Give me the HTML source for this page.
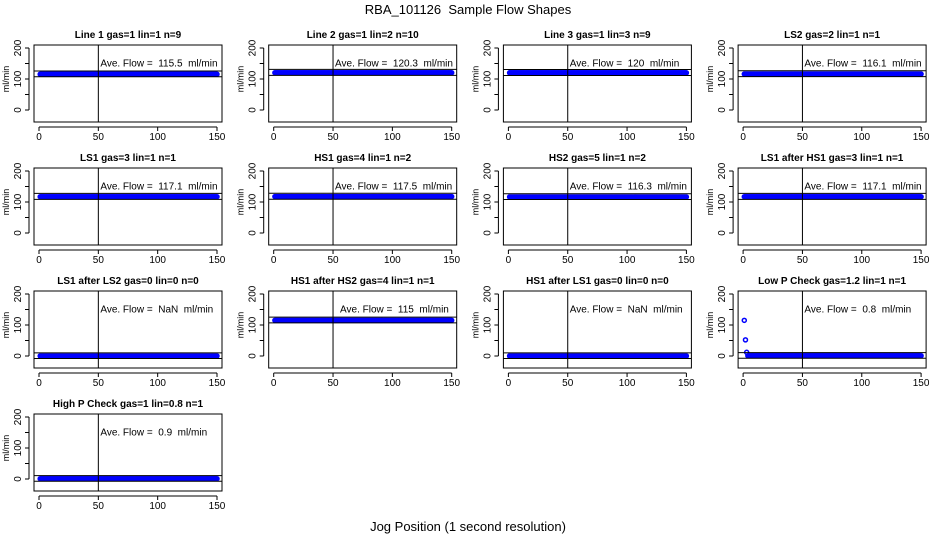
<!DOCTYPE html>
<html><head><meta charset="utf-8">
<style>
html,body{margin:0;padding:0;background:#fff;}
svg{display:block;font-family:"Liberation Sans",Arial,sans-serif;}
text{white-space:pre;}
</style></head>
<body>
<svg id="chart" width="936" height="540" viewBox="0 0 936 540">
<text x="468" y="14" text-anchor="middle" font-size="13">RBA_101126  Sample Flow Shapes</text>
<text x="468" y="531" text-anchor="middle" font-size="13">Jog Position (1 second resolution)</text>
</svg>
<script>
const titles = ["Line 1 gas=1 lin=1 n=9","Line 2 gas=1 lin=2 n=10","Line 3 gas=1 lin=3 n=9","LS2 gas=2 lin=1 n=1",
"LS1 gas=3 lin=1 n=1","HS1 gas=4 lin=1 n=2","HS2 gas=5 lin=1 n=2","LS1 after HS1 gas=3 lin=1 n=1",
"LS1 after LS2 gas=0 lin=0 n=0","HS1 after HS2 gas=4 lin=1 n=1","HS1 after LS1 gas=0 lin=0 n=0","Low P Check gas=1.2 lin=1 n=1",
"High P Check gas=1 lin=0.8 n=1"];
const aveLabels = ["115.5","120.3","120","116.1","117.1","117.5","116.3","117.1","NaN","115","NaN","0.8","0.9"];
const levels = [115.5,120.3,120,116.1,117.1,117.5,116.3,117.1,0,115,0,0.8,0.9];
const startValues = [[],[],[],[],[],[],[],[],[],[],[],[115,52,12],[]];
const xTicks = [0,50,100,150];
const yTicks = [0,50,100,150,200];
const yLabels = [0,100,200];
const nPoints = 150;

const NS = "http://www.w3.org/2000/svg";
const svg = document.getElementById("chart");
function mk(tag, attrs, parent){const e=document.createElementNS(NS,tag);for(const k in attrs)e.setAttribute(k,attrs[k]);(parent||svg).appendChild(e);return e;}

titles.forEach((t,i)=>{
  const c=i%4, r=Math.floor(i/4);
  const L=34+234.7*c, R=L+188, T=45+123*r, B=T+77;
  const sx=v=>39+234.7*c+v*(178/150);
  const sy=v=>T+65-v*0.31;
  const g=mk("g",{});
  
  
  const tt=mk("text",{x:(L+R)/2,y:T-7,"text-anchor":"middle","font-size":"10","font-weight":"bold"},g);
  tt.textContent=t;
  
  
  const pts=mk("g",{fill:"none",stroke:"#0000ff","stroke-width":"1.5"},g);
  
  
  const sv=startValues[i];
  for(let k=1;k<=nPoints;k++){
    const v = k<=sv.length ? sv[k-1] : levels[i];
    const p=mk("circle",{cx:sx(k),cy:sy(v),r:2},pts);
    
    
  }
  const band = Math.max(levels[i]*0.09,10);
  [levels[i]+band, levels[i]-band*0.8].forEach(v=>{
    const l=mk("line",{x1:L,x2:R,y1:sy(v),y2:sy(v),stroke:"#000","stroke-width":"1"},g);
    
    
  });
  const vl=mk("line",{x1:sx(50),x2:sx(50),y1:T,y2:B,stroke:"#000","stroke-width":"1"},g);
  
  
  const box=mk("rect",{x:L,y:T,width:R-L,height:B-T,fill:"none",stroke:"#000","stroke-width":"1"},g);
  
  
  const at=mk("text",{x:sx(50)+(i==9?7:2),y:sy(150)+3,"font-size":"10"},g);
  at.textContent="Ave. Flow =  "+aveLabels[i]+"  ml/min";
  
  
  mk("line",{x1:sx(0),x2:sx(150),y1:B+5,y2:B+5,stroke:"#000"},g);
  xTicks.forEach(v=>{
    mk("line",{x1:sx(v),x2:sx(v),y1:B+5,y2:B+9,stroke:"#000"},g);
    const x=mk("text",{x:sx(v),y:B+18,"text-anchor":"middle","font-size":"10"},g);
    x.textContent=v;
    
    
  });
  mk("line",{x1:L-5,x2:L-5,y1:sy(0),y2:sy(200),stroke:"#000"},g);
  yTicks.forEach(v=>{mk("line",{x1:L-9,x2:L-5,y1:sy(v),y2:sy(v),stroke:"#000"},g);});
  yLabels.forEach(v=>{
    const y=mk("text",{x:L-13,y:sy(v),"text-anchor":"middle","font-size":"10",transform:`rotate(-90 ${L-13} ${sy(v)})`},g);
    y.textContent=v;
    
    
  });
  const yt=mk("text",{x:L-25,y:sy(100),"text-anchor":"middle","font-size":"9",transform:`rotate(-90 ${L-25} ${sy(100)})`},g);
  yt.textContent="ml/min";
  
  
});
</script>
</body></html>
